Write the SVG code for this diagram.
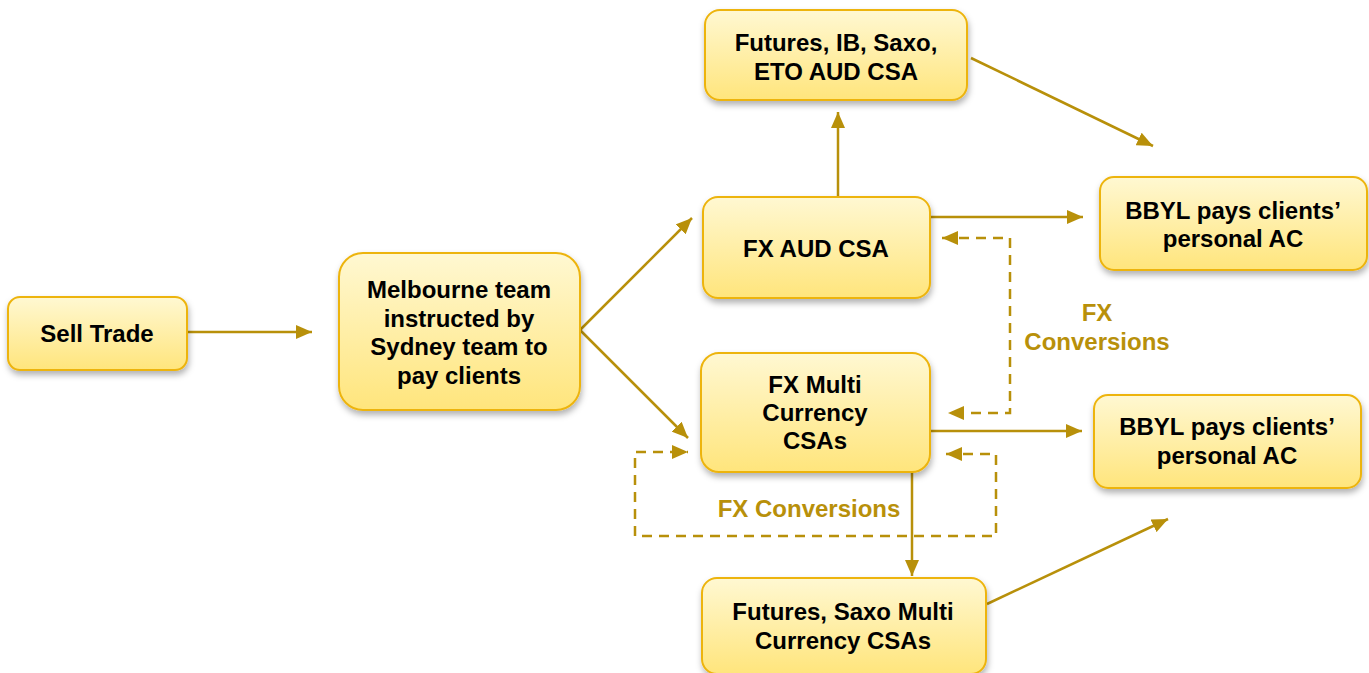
<svg xmlns="http://www.w3.org/2000/svg" width="1369" height="673" viewBox="0 0 1369 673">
<defs>
<linearGradient id="g" x1="0" y1="0" x2="0" y2="1">
<stop offset="0" stop-color="#FFF8D2"/>
<stop offset="1" stop-color="#FFE57C"/>
</linearGradient>
<filter id="sh" x="-10%" y="-10%" width="120%" height="130%">
<feDropShadow dx="1" dy="4" stdDeviation="3" flood-color="#000" flood-opacity="0.3"/>
</filter>
<marker id="ah" viewBox="0 0 16 14" refX="16" refY="7" markerWidth="16" markerHeight="14" markerUnits="userSpaceOnUse" orient="auto">
<path d="M0,0 L16,7 L0,14 Z" fill="#B8900A"/>
</marker>
<marker id="as" viewBox="0 0 16 14" refX="0" refY="7" markerWidth="16" markerHeight="14" markerUnits="userSpaceOnUse" orient="auto">
<path d="M16,0 L0,7 L16,14 Z" fill="#B8900A"/>
</marker>
</defs>
<style>
.box{fill:url(#g);stroke:#EDB40E;stroke-width:2;filter:url(#sh)}
.t{font-family:"Liberation Sans",Arial,sans-serif;font-weight:bold;font-size:24px;fill:#000;text-anchor:middle}
.lbl{font-family:"Liberation Sans",Arial,sans-serif;font-weight:bold;font-size:24px;fill:#B8900A;text-anchor:middle}
.c{fill:none;stroke:#B8900A;stroke-width:2.5}
.d{fill:none;stroke:#B8900A;stroke-width:2.5;stroke-dasharray:10,7}
</style>
<g id="connectors">
<line class="c" x1="187" y1="332" x2="312" y2="332" marker-end="url(#ah)"/>
<line class="c" x1="580" y1="330" x2="692" y2="218" marker-end="url(#ah)"/>
<line class="c" x1="580" y1="330" x2="688" y2="438" marker-end="url(#ah)"/>
<line class="c" x1="838" y1="197" x2="838" y2="112" marker-end="url(#ah)"/>
<line class="c" x1="971" y1="58" x2="1153" y2="146" marker-end="url(#ah)"/>
<line class="c" x1="930" y1="217" x2="1083" y2="217" marker-end="url(#ah)"/>
<line class="c" x1="930" y1="431" x2="1082" y2="431" marker-end="url(#ah)"/>
<line class="c" x1="912" y1="472" x2="912" y2="576" marker-end="url(#ah)"/>
<line class="c" x1="987" y1="604" x2="1168" y2="519" marker-end="url(#ah)"/>
<path class="d" d="M942,238 L1010,238 L1010,413 L948,413" marker-start="url(#as)" marker-end="url(#ah)"/>
<path class="d" d="M946,454 L996,454 L996,536 L635,536 L635,452 L688,452" marker-start="url(#as)" marker-end="url(#ah)"/>
<text class="lbl" x="1097" y="321">FX</text>
<text class="lbl" x="1097" y="350">Conversions</text>
<text class="lbl" x="809" y="517">FX Conversions</text>
</g>
<g id="sell-trade">
<rect class="box" x="8" y="297" width="179" height="73" rx="12"/>
<text class="t" x="97" y="342">Sell Trade</text>
</g>
<g id="melbourne">
<rect class="box" x="339" y="253" width="241" height="157" rx="24"/>
<text class="t" x="459" y="298">Melbourne team</text>
<text class="t" x="459" y="327">instructed by</text>
<text class="t" x="459" y="355">Sydney team to</text>
<text class="t" x="459" y="384">pay clients</text>
</g>
<g id="futures-ib">
<rect class="box" x="705" y="10" width="262" height="90" rx="15"/>
<text class="t" x="836" y="51">Futures, IB, Saxo,</text>
<text class="t" x="836" y="80">ETO AUD CSA</text>
</g>
<g id="fx-aud">
<rect class="box" x="703" y="197" width="227" height="101" rx="15"/>
<text class="t" x="816" y="257">FX AUD CSA</text>
</g>
<g id="fx-multi">
<rect class="box" x="701" y="353" width="229" height="119" rx="18"/>
<text class="t" x="815" y="393">FX Multi</text>
<text class="t" x="815" y="421">Currency</text>
<text class="t" x="815" y="449">CSAs</text>
</g>
<g id="futures-saxo">
<rect class="box" x="702" y="578" width="284" height="96" rx="15"/>
<text class="t" x="843" y="620">Futures, Saxo Multi</text>
<text class="t" x="843" y="649">Currency CSAs</text>
</g>
<g id="bbyl-1">
<rect class="box" x="1100" y="177" width="267" height="93" rx="14"/>
<text class="t" x="1233" y="219">BBYL pays clients’</text>
<text class="t" x="1233" y="247">personal AC</text>
</g>
<g id="bbyl-2">
<rect class="box" x="1094" y="395" width="267" height="93" rx="14"/>
<text class="t" x="1227" y="435">BBYL pays clients’</text>
<text class="t" x="1227" y="464">personal AC</text>
</g>
</svg>
